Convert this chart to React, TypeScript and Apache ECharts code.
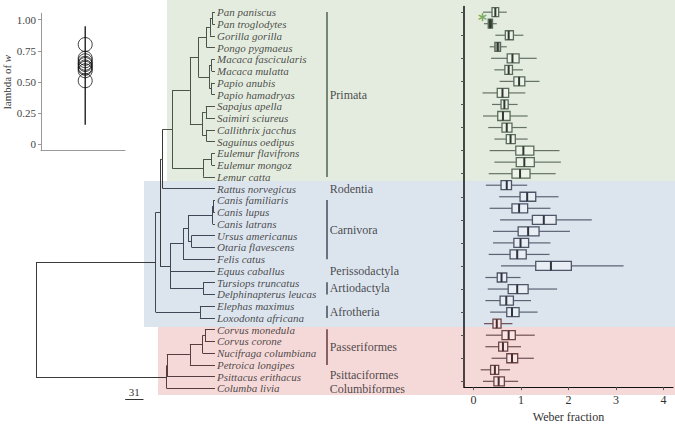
import React, { useEffect, useRef } from 'react';
import * as echarts from 'echarts';

// ---------- data ----------
const species = [
  'Pan paniscus', 'Pan troglodytes', 'Gorilla gorilla', 'Pongo pygmaeus',
  'Macaca fascicularis', 'Macaca mulatta', 'Papio anubis', 'Papio hamadryas',
  'Sapajus apella', 'Saimiri sciureus', 'Callithrix jacchus', 'Saguinus oedipus',
  'Eulemur flavifrons', 'Eulemur mongoz', 'Lemur catta', 'Rattus norvegicus',
  'Canis familiaris', 'Canis lupus', 'Canis latrans', 'Ursus americanus',
  'Otaria flavescens', 'Felis catus', 'Equus caballus', 'Tursiops truncatus',
  'Delphinapterus leucas', 'Elephas maximus', 'Loxodonta africana',
  'Corvus monedula', 'Corvus corone', 'Nucifraga columbiana', 'Petroica longipes',
  'Psittacus erithacus', 'Columba livia',
];
const wMin = [0.20, 0.22, 0.46, 0.34, 0.37, 0.44, 0.55, 0.19, 0.39, 0.20, 0.31, 0.44, 0.34, 0.44, 0.32,
  0.26, 0.54, 0.34, 0.56, 0.41, 0.41, 0.32, 0.58, 0.25, 0.30, 0.25, 0.35,
  0.22, 0.26, 0.25, 0.38, 0.15, 0.20];
const q1 = [0.39, 0.31, 0.67, 0.45, 0.71, 0.66, 0.85, 0.50, 0.58, 0.51, 0.60, 0.69, 0.89, 0.90, 0.81,
  0.58, 0.98, 0.81, 1.24, 0.94, 0.85, 0.77, 1.31, 0.50, 0.73, 0.56, 0.70,
  0.41, 0.60, 0.53, 0.70, 0.36, 0.43];
const median = [0.46, 0.35, 0.74, 0.51, 0.82, 0.74, 0.96, 0.61, 0.65, 0.62, 0.70, 0.78, 1.05, 1.07, 0.98,
  0.70, 1.13, 0.96, 1.48, 1.15, 0.99, 0.92, 1.63, 0.59, 0.92, 0.69, 0.81,
  0.49, 0.74, 0.62, 0.81, 0.45, 0.53];
const q3 = [0.53, 0.40, 0.84, 0.57, 0.96, 0.82, 1.08, 0.74, 0.73, 0.77, 0.81, 0.88, 1.27, 1.28, 1.19,
  0.80, 1.31, 1.14, 1.74, 1.38, 1.16, 1.11, 2.06, 0.70, 1.15, 0.84, 0.96,
  0.58, 0.88, 0.72, 0.93, 0.53, 0.65];
const wMax = [0.70, 0.49, 1.05, 0.70, 1.33, 1.04, 1.39, 1.09, 0.93, 1.14, 1.12, 1.14, 1.81, 1.84, 1.73,
  1.13, 1.79, 1.62, 2.49, 2.03, 1.62, 1.60, 3.16, 0.99, 1.76, 1.21, 1.35,
  0.82, 1.29, 1.00, 1.27, 0.77, 0.94];
// 0 = primates (green), 1 = other mammals (blue), 2 = birds (pink)
const speciesGroup = [0, 0, 0, 0, 0, 0, 0, 0, 0, 0, 0, 0, 0, 0, 0,
  1, 1, 1, 1, 1, 1, 1, 1, 1, 1, 1, 1,
  2, 2, 2, 2, 2, 2];
const starMark = [0.19, 0.32]; // [Weber fraction, row]

// tree: [node id, age (Myr), children (node ids or species row indices)]
const treeNodes: [string, number, (string | number)[]][] = [
  ['Pan', 4.5, [0, 1]],
  ['PanGorilla', 8.5, ['Pan', 2]],
  ['Hominidae', 14, ['PanGorilla', 3]],
  ['Macaca', 5.5, [4, 5]],
  ['Papio', 5.5, [6, 7]],
  ['Papionini', 9.5, ['Macaca', 'Papio']],
  ['Catarrhini', 28, ['Hominidae', 'Papionini']],
  ['Cebidae', 15.5, [8, 9]],
  ['Callitrichidae', 14, [10, 11]],
  ['Platyrrhini', 21, ['Cebidae', 'Callitrichidae']],
  ['Haplorhini', 42.5, ['Catarrhini', 'Platyrrhini']],
  ['Eulemur', 5.5, [12, 13]],
  ['Lemuridae', 20, ['Eulemur', 14]],
  ['Primates', 72.5, ['Haplorhini', 'Lemuridae']],
  ['Euarchontoglires', 88.5, ['Primates', 15]],
  ['CanisA', 3, [16, 17]],
  ['Canis', 4, ['CanisA', 18]],
  ['Arctoidea', 39.5, [19, 20]],
  ['Caniformia', 45.5, ['Canis', 'Arctoidea']],
  ['Carnivora', 54, ['Caniformia', 21]],
  ['Cetacea', 20, [23, 24]],
  ['Laurasiatheria', 76, ['Carnivora', 22, 'Cetacea']],
  ['Boreoeutheria', 93, ['Euarchontoglires', 'Laurasiatheria']],
  ['Afrotheria', 25.5, [25, 26]],
  ['Eutheria', 100.5, ['Boreoeutheria', 'Afrotheria']],
  ['Corvus', 17, [27, 28]],
  ['Corvidae', 21, ['Corvus', 29]],
  ['Passeriformes', 42.5, ['Corvidae', 30]],
  ['Psittacopasserae', 81.5, ['Passeriformes', 31]],
  ['Neoaves', 82, ['Psittacopasserae', 32]],
  ['Amniota', 303, ['Eutheria', 'Neoaves']],
];
const scaleBarLength = 31;

const cladeNames = ['Primata', 'Rodentia', 'Carnivora', 'Perissodactyla', 'Artiodactyla',
  'Afrotheria', 'Passeriformes', 'Psittaciformes', 'Columbiformes'];
const cladeFirst = [0, 15, 16, 22, 23, 25, 27, 31, 32];
const cladeLast = [14, 15, 21, 22, 24, 26, 30, 31, 32];
const cladeHasBar = [true, false, true, false, true, true, true, false, false];

const lambdaValues = [0.80, 0.69, 0.67, 0.65, 0.64, 0.62, 0.61, 0.59, 0.51];
const lambdaRange = [0.157, 0.947];
const lambdaTicks = [0, 0.25, 0.5, 0.75, 1];
const weberTicks = [0, 1, 2, 3, 4];

// ---------- styles ----------
const SERIF = 'Liberation Serif';
const groupFill = ['#eef3ea', '#e9eef5', '#f9e5e5'];
const groupBorder = ['#5b6b5b', '#4d5566', '#6d4547'];
const medianColor = ['#2f3a30', '#2e3442', '#4a2c2e'];
const whiskerColor = ['#667266', '#5c6474', '#6e5052'];
const bandColors = ['#e4ecdf', '#dce4ee', '#f5d8d8'];
const branchColors = ['#4a554a', '#3f4656', '#553c3f', '#3a3a3a'];

export default function App() {
  const ref = useRef<HTMLDivElement>(null);
  useEffect(() => {
    const chart = echarts.init(ref.current!, null, { renderer: 'svg' });

    // tree geometry
    const nodes = new Map<string, { age: number; children: (string | number)[] }>();
    treeNodes.forEach(([id, age, ch]) => nodes.set(id, { age, children: ch }));
    const yCache = new Map<string, number>();
    const nodeY = (id: string | number): number => {
      if (typeof id === 'number') return id;
      if (yCache.has(id)) return yCache.get(id)!;
      const ys = nodes.get(id)!.children.map(nodeY);
      const y = (Math.min(...ys) + Math.max(...ys)) / 2;
      yCache.set(id, y);
      return y;
    };
    const nodeAge = (id: string | number) => (typeof id === 'number' ? 0 : nodes.get(id)!.age);
    const tint = (yMin: number, yMax: number, age: number) => {
      if (age > 110) return branchColors[3];
      if (yMax <= 14.5) return branchColors[0];
      if (yMin >= 26.5) return branchColors[2];
      if (yMin >= 14.5 && yMax <= 26.5) return branchColors[1];
      return branchColors[3];
    };
    const segments: any[] = [];
    treeNodes.forEach(([id, age, ch]) => {
      const ys = ch.map(nodeY);
      const lo = Math.min(...ys);
      const hi = Math.max(...ys);
      segments.push({ coords: [[age, lo], [age, hi]], lineStyle: { color: tint(lo, hi, age) } });
      ch.forEach((c) => {
        const y = nodeY(c);
        segments.push({
          coords: [[age, y], [nodeAge(c), y]],
          lineStyle: { color: age > 110 ? branchColors[3] : tint(y, y, 0) },
        });
      });
    });

    const cladeBarX = -190;
    const cladeBars = cladeNames
      .map((_, i) => i)
      .filter((i) => cladeHasBar[i])
      .map((i) => ({
        coords: [[cladeBarX, cladeFirst[i] - 0.02], [cladeBarX, cladeLast[i] + 0.02]],
        lineStyle: { color: groupBorder[speciesGroup[cladeFirst[i]]] },
      }));
    // small spread so the two single-row bird labels do not collide
    const cladeLabelY = cladeNames.map((n, i) => {
      const m = (cladeFirst[i] + cladeLast[i]) / 2;
      if (n === 'Psittaciformes') return m - 0.1;
      if (n === 'Columbiformes') return m + 0.1;
      return m;
    });

    const option: any = {
      animation: false,
      backgroundColor: '#ffffff',
      graphic: [
        { type: 'rect', z: -10, shape: { x: 167, y: 0, width: 508, height: 181 }, style: { fill: bandColors[0] } },
        { type: 'rect', z: -10, shape: { x: 144, y: 181, width: 531, height: 146 }, style: { fill: bandColors[1] } },
        { type: 'rect', z: -10, shape: { x: 158, y: 327, width: 517, height: 68 }, style: { fill: bandColors[2] } },
      ],
      grid: [
        { left: 36, right: 235, top: 6.4, bottom: 33.8 },
        { left: 464, right: 2, top: 6.4, bottom: 33.8 },
        { left: 41, right: 550, top: 13.3, bottom: 277.3 },
      ],
      xAxis: [
        { gridIndex: 0, type: 'value', min: -381, max: 303, inverse: true, show: false },
        {
          gridIndex: 1, type: 'value', min: -0.2, max: 4.2,
          axisLine: { show: true, onZero: false, lineStyle: { color: '#111', width: 1.2 } },
          axisTick: { show: true, customValues: weberTicks, length: 3, lineStyle: { color: '#555' } },
          axisLabel: { customValues: weberTicks, fontFamily: SERIF, fontSize: 12, color: '#333', margin: 7 },
          splitLine: { show: false },
          name: 'Weber fraction', nameLocation: 'middle', nameGap: 21,
          nameTextStyle: { fontFamily: SERIF, fontSize: 12, color: '#333' },
        },
        {
          gridIndex: 2, type: 'value', min: 0, max: 1.9,
          axisLine: { show: true, onZero: false, lineStyle: { color: '#999' } },
          axisTick: { show: false }, axisLabel: { show: false }, splitLine: { show: false },
        },
      ],
      yAxis: [
        { gridIndex: 0, type: 'value', min: -0.5, max: 32.5, inverse: true, show: false },
        {
          gridIndex: 1, type: 'category', data: species, inverse: true,
          axisLine: { show: true, onZero: false, lineStyle: { color: '#111', width: 1.5 } },
          axisTick: { show: true, alignWithLabel: true, length: 3, lineStyle: { color: '#555' } },
          axisLabel: { show: false },
        },
        { gridIndex: 1, type: 'value', min: -0.5, max: 32.5, inverse: true, show: false },
        {
          gridIndex: 2, type: 'value', min: -0.05, max: 1.05,
          axisLine: { show: true, onZero: false, lineStyle: { color: '#999' } },
          axisTick: { show: true, customValues: lambdaTicks, length: 3, lineStyle: { color: '#999' } },
          axisLabel: {
            customValues: lambdaTicks, fontFamily: SERIF, fontSize: 11, color: '#444', margin: 5,
            formatter: (v: number) => (v === 0 ? '0' : v.toFixed(2)),
          },
          splitLine: { show: false },
          name: '{a|lambda of }{b|w}', nameLocation: 'middle', nameGap: 27,
          nameTextStyle: {
            rich: {
              a: { fontFamily: SERIF, fontSize: 11, color: '#333' },
              b: { fontFamily: SERIF, fontSize: 11, color: '#333', fontStyle: 'italic' },
            },
          },
        },
      ],
      series: [
        {
          type: 'lines', coordinateSystem: 'cartesian2d', xAxisIndex: 0, yAxisIndex: 0,
          clip: false, silent: true,
          lineStyle: { color: '#3a3a3a', width: 1, opacity: 1 },
          data: segments,
        },
        {
          type: 'lines', coordinateSystem: 'cartesian2d', xAxisIndex: 0, yAxisIndex: 0,
          clip: false, silent: true,
          lineStyle: { color: '#555', width: 1.6, opacity: 1 },
          data: cladeBars,
        },
        {
          type: 'lines', coordinateSystem: 'cartesian2d', xAxisIndex: 0, yAxisIndex: 0,
          clip: false, silent: true,
          lineStyle: { color: '#333', width: 1, opacity: 1 },
          label: {
            show: true, position: 'middle', formatter: String(scaleBarLength),
            fontFamily: SERIF, fontSize: 11, color: '#333', distance: 2,
          },
          data: [{ coords: [[152, 32.95], [152 - scaleBarLength, 32.95]] }],
        },
        {
          type: 'scatter', xAxisIndex: 0, yAxisIndex: 0, clip: false, silent: true,
          symbolSize: 0,
          label: {
            show: true, position: 'right', distance: 2,
            fontFamily: SERIF, fontStyle: 'italic', fontSize: 11, color: '#222',
            lineHeight: 11,
            formatter: (p: any) => species[p.dataIndex],
          },
          data: species.map((_, i) => [0, i]),
        },
        {
          type: 'scatter', xAxisIndex: 0, yAxisIndex: 0, clip: false, silent: true,
          symbolSize: 0,
          label: {
            show: true, position: 'right', distance: 2.5,
            fontFamily: SERIF, fontSize: 12, color: '#222', lineHeight: 11,
            formatter: (p: any) => cladeNames[p.dataIndex],
          },
          data: cladeNames.map((_, i) => [cladeBarX, cladeLabelY[i]]),
        },
        {
          type: 'custom', xAxisIndex: 1, yAxisIndex: 1, silent: true,
          encode: { x: [1, 2, 3, 4, 5], y: 0 },
          data: species.map((_, i) => [i, wMin[i], q1[i], median[i], q3[i], wMax[i]]),
          renderItem: (params: any, api: any) => {
            const idx = api.value(0);
            const g = speciesGroup[idx];
            const pMin = api.coord([api.value(1), idx]);
            const pQ1 = api.coord([api.value(2), idx]);
            const pMed = api.coord([api.value(3), idx]);
            const pQ3 = api.coord([api.value(4), idx]);
            const pMax = api.coord([api.value(5), idx]);
            const h = 9;
            let fill = groupFill[g];
            if (idx === 1) fill = '#3e493e';
            if (idx === 3) fill = '#a3aba3';
            const y = pMed[1];
            return {
              type: 'group',
              children: [
                { type: 'line', shape: { x1: pMin[0], y1: y, x2: pQ1[0], y2: y }, style: { stroke: whiskerColor[g], lineWidth: 1.2 } },
                { type: 'line', shape: { x1: pQ3[0], y1: y, x2: pMax[0], y2: y }, style: { stroke: whiskerColor[g], lineWidth: 1.2 } },
                { type: 'rect', shape: { x: pQ1[0], y: y - h / 2, width: pQ3[0] - pQ1[0], height: h }, style: { fill, stroke: groupBorder[g], lineWidth: 1.3 } },
                { type: 'line', shape: { x1: pMed[0], y1: y - h / 2, x2: pMed[0], y2: y + h / 2 }, style: { stroke: medianColor[g], lineWidth: 2 } },
              ],
            };
          },
        },
        {
          type: 'scatter', xAxisIndex: 1, yAxisIndex: 2, clip: false, silent: true,
          symbolSize: 0,
          label: {
            show: true, position: 'inside', formatter: '*', offset: [0, 4],
            fontFamily: 'DejaVu Sans', fontWeight: 'bold', fontSize: 17, color: '#5e9a3e',
          },
          data: [starMark],
        },
        {
          type: 'line', xAxisIndex: 2, yAxisIndex: 3, silent: true, symbol: 'none',
          lineStyle: { color: '#111', width: 1.3 },
          data: [[1, lambdaRange[0]], [1, lambdaRange[1]]],
        },
        {
          type: 'scatter', xAxisIndex: 2, yAxisIndex: 3, silent: true,
          symbol: 'circle', symbolSize: 14,
          itemStyle: { color: 'rgba(255,255,255,0)', borderColor: '#111', borderWidth: 1 },
          data: lambdaValues.map((v) => [1, v]),
        },
      ],
    };
    chart.setOption(option);
    return () => chart.dispose();
  }, []);
  return (
    <div
      ref={ref}
      style={{ position: 'absolute', left: 0, top: 0, width: 675, height: 428 }}
    />
  );
}
